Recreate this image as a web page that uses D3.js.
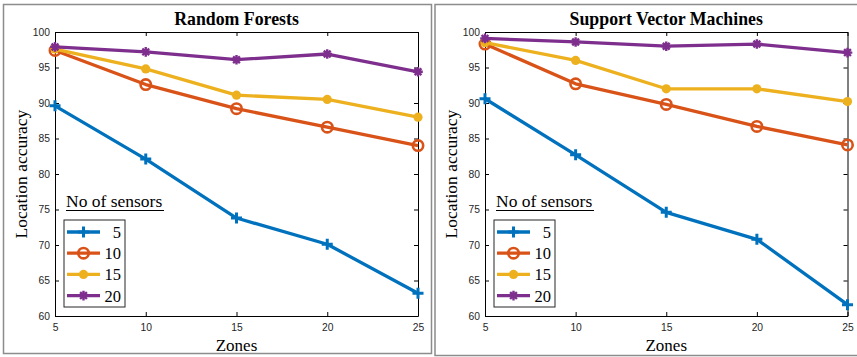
<!DOCTYPE html>
<html>
<head>
<meta charset="utf-8">
<script src="https://cdn.jsdelivr.net/npm/d3@7"></script>
<style>
	body { margin: 0; background: #fff; }
	svg { display: block; }
	.tick text { font-family: "Liberation Sans", Arial, sans-serif; font-size: 10.3px; fill: #262626; }
	.tick line, .domain { stroke: #000; }
</style>
</head>
<body>
<svg id="Chart" width="857" height="357"></svg>
<script>
/* Data */
var zones = [5, 10, 15, 20, 25];
var sensorCounts = [5, 10, 15, 20];
var yTicks = [60, 65, 70, 75, 80, 85, 90, 95, 100];

// Random Forests, one array per number of sensors
var rf5 = [89.6, 82.1, 73.8, 70.1, 63.2];
var rf10 = [97.4, 92.6, 89.2, 86.6, 84.0];
var rf15 = [97.6, 94.8, 91.1, 90.5, 88.0];
var rf20 = [97.9, 97.2, 96.1, 96.9, 94.4];

// Support Vector Machines
var svm5 = [90.6, 82.7, 74.6, 70.8, 61.6];
var svm10 = [98.3, 92.7, 89.8, 86.7, 84.1];
var svm15 = [98.5, 96.0, 92.0, 92.0, 90.2];
var svm20 = [99.1, 98.6, 98.0, 98.3, 97.1];

var colors = ["#0072BD", "#D95319", "#EDB120", "#7E2F8E"];
var markers = ["plus", "ring", "dot", "star"];

var svg = d3.select("#Chart");

/* Grey frames round each panel */
svg.append("rect").attr("x", 3.5).attr("y", 4.5).attr("width", 428).attr("height", 349)
	.attr("fill", "none").attr("stroke", "#8c8c8c").attr("stroke-width", 1.5);
svg.append("rect").attr("x", 435).attr("y", 4.5).attr("width", 430).attr("height", 351)
	.attr("fill", "none").attr("stroke", "#8c8c8c").attr("stroke-width", 1.5);

/* Draw one marker of the given kind */
function drawMarker(g, kind, x, y, color) {
	if (kind == "plus") {
		g.append("path").attr("d", "M" + (x - 5.5) + "," + y + "H" + (x + 5.5) + "M" + x + "," + (y - 5.5) + "V" + (y + 5.5))
			.attr("stroke", color).attr("stroke-width", 3).attr("fill", "none");
	}
	else if (kind == "ring") {
		g.append("circle").attr("cx", x).attr("cy", y).attr("r", 5.2)
			.attr("stroke", color).attr("stroke-width", 2.6).attr("fill", "none");
	}
	else if (kind == "dot") {
		g.append("circle").attr("cx", x).attr("cy", y).attr("r", 4.6)
			.attr("fill", color);
	}
	else {
		var r = 4.8, d = r * 0.707;
		g.append("path")
			.attr("d", "M" + (x - r) + "," + y + "H" + (x + r) + "M" + x + "," + (y - r) + "V" + (y + r) +
				"M" + (x - d) + "," + (y - d) + "L" + (x + d) + "," + (y + d) +
				"M" + (x - d) + "," + (y + d) + "L" + (x + d) + "," + (y - d))
			.attr("stroke", color).attr("stroke-width", 2.4).attr("fill", "none");
	}
}

/* Draw one panel */
function drawPanel(left, right, title, series) {
	var top = 32, bottom = 316;
	var x = d3.scaleLinear().domain([5, 25]).range([left, right]);
	var y = d3.scaleLinear().domain([60, 100]).range([bottom, top]);
	var g = svg.append("g");

	// Axes box with inward ticks on every side
	g.append("g").attr("transform", "translate(0," + bottom + ")")
		.call(d3.axisBottom(x).tickValues(zones).tickSizeInner(-4).tickSizeOuter(0).tickPadding(8));
	g.append("g").attr("transform", "translate(0," + top + ")")
		.call(d3.axisTop(x).tickValues(zones).tickSizeInner(-4).tickSizeOuter(0).tickFormat(""));
	g.append("g").attr("transform", "translate(" + right + ",0)")
		.call(d3.axisRight(y).tickValues(yTicks).tickSizeInner(-4).tickSizeOuter(0).tickFormat(""));
	g.append("g").attr("transform", "translate(" + left + ",0)")
		.call(d3.axisLeft(y).tickValues(yTicks).tickSizeInner(-4).tickSizeOuter(0).tickPadding(5));

	// Title and axis labels
	g.append("text").attr("x", (left + right) / 2).attr("y", 24.5)
		.attr("text-anchor", "middle").attr("font-family", "Liberation Serif, serif")
		.attr("font-weight", "bold").attr("font-size", 17.8).text(title);
	g.append("text").attr("x", (left + right) / 2).attr("y", 351)
		.attr("text-anchor", "middle").attr("font-family", "Liberation Serif, serif")
		.attr("font-size", 17).text("Zones");
	g.append("text").attr("transform", "translate(" + (left - 28.5) + "," + ((top + bottom) / 2) + ") rotate(-90)")
		.attr("text-anchor", "middle").attr("font-family", "Liberation Serif, serif")
		.attr("font-size", 17.5).text("Location accuracy");

	// Lines and markers
	var line = d3.line().x(function(d, i) { return x(zones[i]); }).y(function(d) { return y(d); });
	series.forEach(function(vals, s) {
		g.append("path").datum(vals).attr("d", line)
			.attr("fill", "none").attr("stroke", colors[s]).attr("stroke-width", 3.3)
			.attr("stroke-linejoin", "round");
		vals.forEach(function(v, i) {
			drawMarker(g, markers[s], x(zones[i]), y(v), colors[s]);
		});
	});

	// Legend
	var lx = left + 9, ly = 220;
	g.append("text").attr("x", lx + 2).attr("y", 207)
		.attr("font-family", "Liberation Serif, serif").attr("font-size", 17.5).text("No of sensors");
	g.append("line").attr("x1", lx + 2).attr("x2", lx + 100).attr("y1", 210.5).attr("y2", 210.5)
		.attr("stroke", "#000").attr("stroke-width", 1);
	g.append("rect").attr("x", lx).attr("y", ly).attr("width", 61).attr("height", 87)
		.attr("fill", "#fff").attr("stroke", "#262626").attr("stroke-width", 1);
	sensorCounts.forEach(function(n, s) {
		var ry = ly + 12 + s * 21.2;
		g.append("line").attr("x1", lx + 3).attr("x2", lx + 36).attr("y1", ry).attr("y2", ry)
			.attr("stroke", colors[s]).attr("stroke-width", 3.3);
		drawMarker(g, markers[s], lx + 19.5, ry, colors[s]);
		g.append("text").attr("x", lx + 57).attr("y", ry + 6)
			.attr("text-anchor", "end").attr("font-family", "Liberation Serif, serif")
			.attr("font-size", 16.5).text(n);
	});
}

drawPanel(55, 418, "Random Forests", [rf5, rf10, rf15, rf20]);
drawPanel(485, 847.5, "Support Vector Machines", [svm5, svm10, svm15, svm20]);
</script>
</body>
</html>
